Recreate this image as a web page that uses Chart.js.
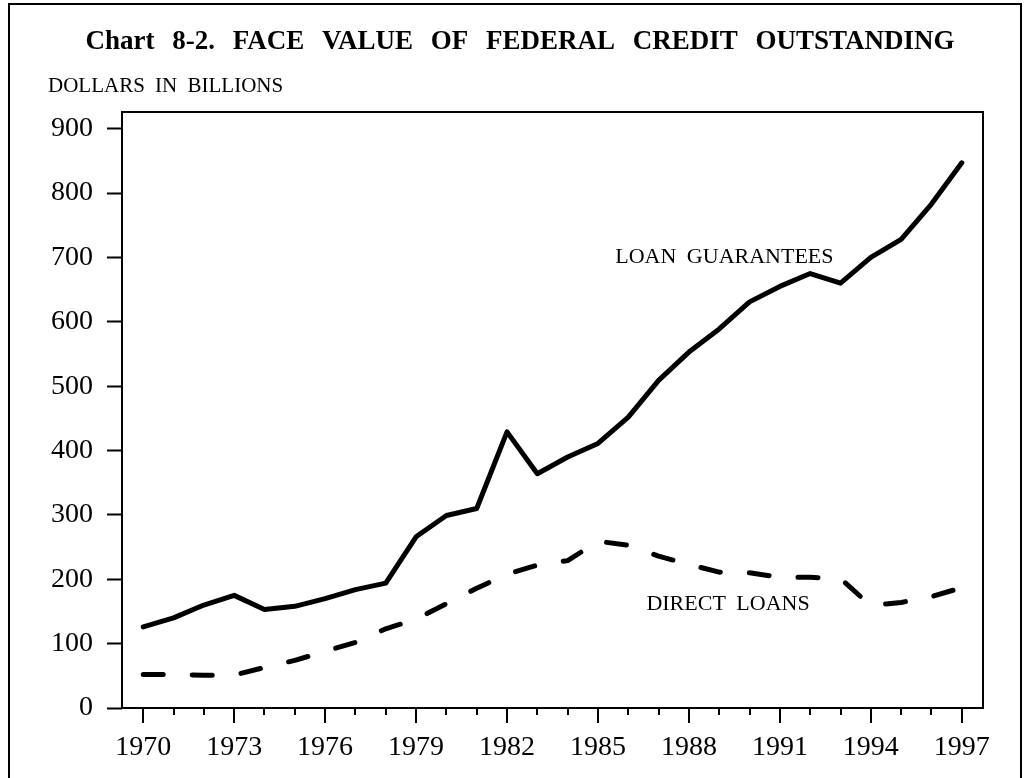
<!DOCTYPE html>
<html>
<head>
<meta charset="utf-8">
<title>Chart 8-2</title>
<script src="https://cdn.jsdelivr.net/npm/chart.js@4.4.0/dist/chart.umd.min.js"></script>
<style>
  html, body { margin: 0; padding: 0; background: #fff; overflow: hidden; }
  #wrap { position: relative; width: 1025px; height: 778px; }
  #frame { position: absolute; left: 8px; top: 3px; width: 1010px; height: 800px;
           border: 2px solid #000; border-bottom: none; }
  canvas { position: absolute; left: 0; top: 0; }
</style>
</head>
<body>
<div id="wrap">
  <div id="frame"></div>
  <canvas id="chart" width="1025" height="778"></canvas>
</div>
<script>
// values (dollars in billions)
const years = [1970, 1971, 1972, 1973, 1974, 1975, 1976, 1977, 1978, 1979,
               1980, 1981, 1982, 1983, 1984, 1985, 1986, 1987, 1988, 1989,
               1990, 1991, 1992, 1993, 1994, 1995, 1996, 1997];
const loanGuarantees = [126, 140, 160, 175, 153, 158, 170, 184, 194, 266,
                        299, 310, 429, 364, 390, 411, 452, 509, 553, 589,
                        631, 655, 675, 660, 700, 728, 783, 847];
const directLoans = [52, 52, 51, 51, 63, 74, 88, 102, 123, 138,
                     162, 186, 208, 222, 229, 259, 253, 236, 223, 211,
                     210, 203, 203, 201, 159, 164, 173, 187];
const xTickLabels = [1970, 1973, 1976, 1979, 1982, 1985, 1988, 1991, 1994, 1997];
const yTickLabels = [0, 100, 200, 300, 400, 500, 600, 700, 800, 900];

const chartTitle = "Chart 8-2. FACE VALUE OF FEDERAL CREDIT OUTSTANDING";
const unitsLabel = "DOLLARS IN BILLIONS";

const SERIF = '"Liberation Serif", "Times New Roman", serif';
Chart.defaults.font.family = SERIF;
Chart.defaults.color = "#000";

const toPoints = vals => years.map((y, i) => ({ x: y, y: vals[i] }));

// plot box, year ticks, title and the two series labels
const decorations = {
  id: "decorations",
  beforeDatasetsDraw(chart) {
    const { ctx, chartArea: a } = chart;
    const xs = chart.scales.x;
    ctx.save();
    ctx.strokeStyle = "#000";
    ctx.lineWidth = 2;
    ctx.strokeRect(a.left, a.top, a.right - a.left, a.bottom - a.top);
    // every year gets a tick, labelled years get a long one
    years.forEach(y => {
      const px = Math.round(xs.getPixelForValue(y));
      const len = xTickLabels.includes(y) ? 15 : 7;
      ctx.beginPath();
      ctx.moveTo(px, a.bottom);
      ctx.lineTo(px, a.bottom + len);
      ctx.stroke();
    });
    ctx.restore();
  },
  afterDraw(chart) {
    const { ctx } = chart;
    const xs = chart.scales.x, ys = chart.scales.y;
    ctx.save();
    ctx.fillStyle = "#000";
    ctx.textBaseline = "alphabetic";

    ctx.font = "bold 27px " + SERIF;
    ctx.textAlign = "center";
    ctx.wordSpacing = "11px";
    ctx.fillText(chartTitle, 520, 49);

    ctx.font = "21px " + SERIF;
    ctx.textAlign = "left";
    ctx.wordSpacing = "5px";
    ctx.fillText(unitsLabel, 48, 92);

    ctx.font = "22px " + SERIF;
    ctx.textAlign = "center";
    ctx.fillText("LOAN GUARANTEES", xs.getPixelForValue(1989.17), ys.getPixelForValue(691));
    ctx.fillText("DIRECT LOANS", xs.getPixelForValue(1989.29), ys.getPixelForValue(152));
    ctx.restore();
  }
};

new Chart(document.getElementById("chart"), {
  type: "line",
  data: {
    datasets: [
      {
        label: "LOAN GUARANTEES",
        data: toPoints(loanGuarantees),
        borderColor: "#000",
        borderWidth: 5,
        pointRadius: 0,
        tension: 0,
        borderCapStyle: "round",
        borderJoinStyle: "round"
      },
      {
        label: "DIRECT LOANS",
        data: toPoints(directLoans),
        borderColor: "#000",
        borderWidth: 5,
        borderDash: [20, 29],
        pointRadius: 0,
        tension: 0,
        borderCapStyle: "round",
        borderJoinStyle: "round"
      }
    ]
  },
  options: {
    responsive: false,
    animation: false,
    devicePixelRatio: 1,
    layout: { padding: { left: 0, right: 42, top: 112, bottom: 0 } },
    plugins: { legend: { display: false }, tooltip: { enabled: false }, title: { display: false } },
    scales: {
      x: {
        type: "linear",
        min: 1969.3,
        max: 1997.7,
        afterBuildTicks: s => { s.ticks = xTickLabels.map(v => ({ value: v })); },
        afterFit: s => { s.height = 70; },
        grid: { display: false, drawTicks: true, tickLength: 15 },
        border: { display: false },
        ticks: {
          autoSkip: false, maxRotation: 0, padding: 8,
          font: { size: 28 },
          callback: v => String(v)
        }
      },
      y: {
        min: 0,
        max: 926,
        afterBuildTicks: s => { s.ticks = yTickLabels.map(v => ({ value: v })); },
        afterFit: s => { s.width = 122; },
        grid: { drawOnChartArea: false, drawTicks: true, tickLength: 15, tickWidth: 2, tickColor: "#000" },
        border: { display: false },
        ticks: { padding: 14, font: { size: 28 } }
      }
    }
  },
  plugins: [decorations]
});
</script>
</body>
</html>
